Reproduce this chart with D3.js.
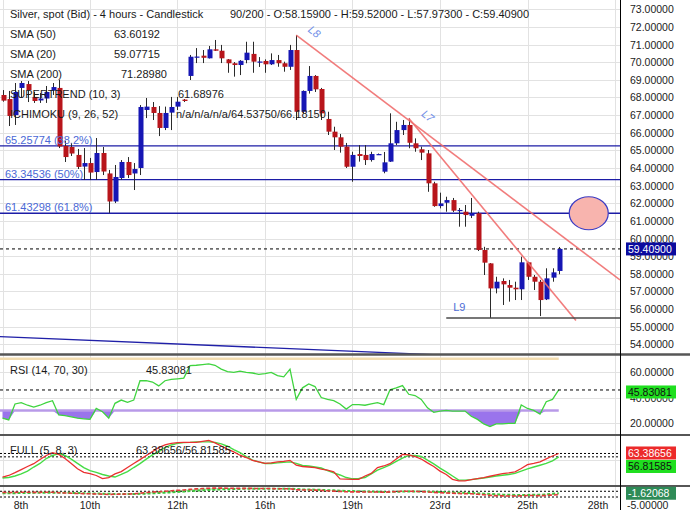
<!DOCTYPE html>
<html>
<head>
<meta charset="utf-8">
<script src="https://cdn.jsdelivr.net/npm/d3@7"></script>
<style>
body{margin:0;background:#fff;}
svg{display:block;font-family:"Liberation Sans",Arial,sans-serif;}
</style>
</head>
<body>
<div id="chart"></div>
<script>
// Silver spot, 4h candles
var opens  = [68.14,67.91,67.00,68.54,68.76,68.03,67.83,67.94,68.39,68.54,
              65.25,65.19,64.74,64.08,64.28,63.77,64.85,63.69,62.10,63.43,
              64.34,63.69,64.00,67.29,67.46,67.12,66.27,67.14,67.48,67.88,
              69.22,70.27,70.37,70.22,70.73,70.65,70.16,69.94,69.84,70.12,
              70.47,70.01,70.07,69.88,70.12,69.94,69.74,70.69,67.19,68.37,
              69.22,68.48,66.78,66.06,65.74,65.21,64.07,64.79,64.74,64.45,
              64.76,63.79,64.36,65.40,66.15,66.44,65.40,65.06,64.83,63.13,
              61.84,62.03,62.18,61.59,61.52,61.29,61.43,59.35,58.59,57.17,
              57.59,57.36,57.21,57.12,58.65,57.83,57.55,56.55,57.78,58.159];
var highs  = [68.42,68.37,68.82,68.93,68.93,68.31,68.25,68.65,68.82,68.99,
              65.53,65.42,65.08,65.13,64.57,65.70,65.19,63.89,64.17,64.45,
              64.62,64.28,67.57,67.97,67.74,67.51,67.48,68.03,68.03,67.91,
              70.41,70.80,70.69,70.92,71.26,70.98,70.18,70.01,70.12,71.16,
              71.16,70.29,70.16,70.50,70.41,70.03,70.98,71.54,68.40,69.78,
              69.27,68.54,67.19,66.34,65.93,65.42,64.92,65.30,65.30,64.92,
              64.82,64.91,67.10,66.62,66.72,66.82,65.68,65.21,65.02,63.22,
              62.60,62.37,62.30,61.73,61.90,62.30,61.52,59.53,58.61,57.83,
              57.74,57.65,57.55,58.97,58.68,57.93,57.65,58.31,58.31,59.52];
var lows   = [67.76,66.38,66.44,67.97,67.74,67.69,67.69,67.69,68.14,65.13,
              64.34,64.68,63.94,63.32,63.32,63.32,63.60,61.45,62.01,63.32,
              63.43,62.75,63.60,66.83,66.72,65.81,66.15,66.15,67.29,67.74,
              68.99,69.95,69.95,70.21,70.64,69.95,69.40,69.18,69.27,69.94,
              69.40,69.73,69.40,69.84,69.74,69.46,69.56,66.72,67.12,68.22,
              68.31,66.72,65.87,65.02,64.87,64.00,63.22,64.36,64.17,64.36,
              64.74,63.70,64.34,65.30,65.87,65.12,64.92,64.45,62.65,61.80,
              61.71,61.52,61.50,60.67,60.67,61.16,59.29,57.93,55.49,56.89,
              56.23,56.42,56.51,56.51,57.65,57.08,55.60,56.51,57.55,57.973];
var closes = [67.82,66.95,68.31,68.82,68.42,67.80,67.94,68.31,68.59,65.22,
              64.62,64.82,64.06,64.28,63.74,64.85,63.80,62.10,63.49,64.34,
              63.60,63.94,67.46,67.48,67.12,66.27,67.12,67.46,67.76,67.80,
              70.31,70.32,70.25,70.73,70.65,70.22,69.94,69.84,70.08,70.54,
              70.03,70.04,69.88,70.12,69.94,69.74,70.69,67.19,68.37,69.22,
              68.46,67.10,66.06,65.74,65.21,64.07,64.74,64.68,64.45,64.79,
              64.79,64.32,65.40,66.15,66.44,65.43,65.12,64.87,63.13,61.84,
              61.99,62.18,61.58,61.62,61.33,61.43,59.35,58.63,57.17,57.55,
              57.40,57.21,57.12,58.65,57.83,57.55,56.51,57.74,58.08,59.409];

// RSI (14, 70, 30)
var rsi = [24,22.6,35,36,34,32.5,34,36,37.5,26.5,
           26,25,24,23.5,23,31.6,29,24,35.5,38,
           36.3,38,53,53,52,49,53,54,54.5,55,
           64.7,65,65.5,66,65,62,60,59.5,60.5,59.5,
           59,58,58.5,59.5,57,56,62,38.6,47.5,50.5,
           48.5,40,38.5,37.5,35,31,34.5,34.5,34,35,
           36,34.5,46,47.5,49.2,42.5,41.5,38.5,32,28.5,
           29.5,30,29.5,29.5,29.5,25.5,23,19.5,17.4,19.5,
           19.5,20,20,34.2,31.5,30,27.2,36.7,38.5,45.83081];

// FULL stochastic (5, 8, 3)
var stochK = [17.5,20.5,26,32,38,43.5,51.5,59.5,65,61.5,
              53.5,44,33.5,26.5,24,20.5,14.5,16.5,23.5,28,
              36,44,51.5,59.5,67,75,80,83,84.5,85,
              85,85,87,89,84,78,72,66.5,60,55.5,
              50,47,44,45,47,48,50,40.5,38,37,
              36,33,31,27.5,14,13.5,13,13,19.5,24.5,
              36,39,43.5,52.5,61.5,60.5,57.5,52.5,45,38,
              29,22.5,13,10,10,12.5,14.5,16.5,19,21.5,
              24,25.5,27.5,34,41.5,44,47,53,58.5,63.38656];
var stochD = [15.5,16.5,19.5,23.5,29,37,44,53.5,59.5,63,
              59.5,52.5,44,36,30,26.5,22.5,19.5,17.5,22.5,
              28,36,43.5,52.5,60.5,67,75,80,83,84.5,
              85,86,86,86,85,82,77.5,71,65,57.5,
              50.5,47,44,44,45,46,47,44,40,39,
              37,35,30,25.5,21.5,16.5,14,14.5,16.5,23.5,
              31,36,41,48,54.5,59.5,59.5,57.5,50.5,43,
              35,27.5,19.5,11.5,11.5,12.5,14,15.5,17.5,19.5,
              21,22.5,24.5,29,33.5,37,40.5,44,49,56.81585];

// bottom oscillator panel
var macdLine = [-1.35,-1.4,-1.35,-1.3,-1.3,-1.35,-1.35,-1.3,-1.3,-1.45,
                -1.55,-1.6,-1.7,-1.75,-1.8,-1.85,-1.9,-2.0,-1.95,-1.9,
                -1.85,-1.8,-1.6,-1.4,-1.25,-1.15,-1.0,-0.85,-0.7,-0.6,
                -0.4,-0.25,-0.15,-0.05,0.0,0.0,-0.05,-0.1,-0.1,-0.1,
                -0.1,-0.15,-0.15,-0.15,-0.2,-0.2,-0.2,-0.5,-0.6,-0.6,
                -0.65,-0.75,-0.85,-0.95,-1.05,-1.15,-1.2,-1.2,-1.25,-1.25,
                -1.25,-1.3,-1.2,-1.1,-1.0,-1.0,-1.05,-1.1,-1.2,-1.35,
                -1.45,-1.55,-1.6,-1.7,-1.75,-1.8,-1.95,-2.1,-2.3,-2.4,
                -2.45,-2.5,-2.5,-2.4,-2.35,-2.35,-2.4,-2.3,-2.2,-2.05];
var signalLine = [-1.6,-1.6,-1.6,-1.55,-1.55,-1.5,-1.5,-1.5,-1.45,-1.45,
                  -1.5,-1.5,-1.55,-1.6,-1.65,-1.7,-1.75,-1.8,-1.85,-1.85,
                  -1.85,-1.85,-1.8,-1.75,-1.65,-1.55,-1.45,-1.35,-1.2,-1.1,
                  -0.95,-0.8,-0.7,-0.6,-0.5,-0.4,-0.35,-0.3,-0.25,-0.2,
                  -0.2,-0.2,-0.2,-0.2,-0.2,-0.2,-0.2,-0.3,-0.4,-0.45,
                  -0.5,-0.55,-0.65,-0.7,-0.8,-0.9,-0.95,-1.0,-1.05,-1.1,
                  -1.15,-1.2,-1.2,-1.15,-1.1,-1.05,-1.05,-1.05,-1.1,-1.15,
                  -1.2,-1.3,-1.35,-1.45,-1.5,-1.55,-1.65,-1.75,-1.85,-1.95,
                  -2.05,-2.1,-2.15,-2.15,-2.15,-2.1,-2.1,-2.0,-1.8,-1.62068];
var macdMarks = [-1.0, -2.8];

// x axis
var dateTicks  = [0,14,28,42,56,70,84,98];
var dateLabels = ['8th','10th','12th','16th','19th','23rd','25th','28th'];
var priceTicks = d3.range(54,74);
var rsiTicks = [20,40,60];

// fibonacci retracement
var fibLevels = [65.25774,63.34536,61.43298];
var fibLabels = ['65.25774 (38.2%)','63.34536 (50%)','61.43298 (61.8%)'];

// drawn objects (index, price)
var lineL8 = [{i:47,p:71.54},{i:98.8,p:57.65}];
var lineL7 = [{i:65,p:66.82},{i:91.75,p:55.35}];
var lineL9 = [{i:71,p:55.49},{i:98.8,p:55.49}];
var lineLow = [{i:-0.4,p:54.44},{i:98.8,p:52.97}];
var ellipseAt = {i:93.8,p:61.43298};

var headerTitle = 'Silver, spot (Bid) - 4 hours - Candlestick';
var headerOHLC = '90/200 - O:58.15900 - H:59.52000 - L:57.97300 - C:59.40900';
var legendNames = ['SMA (50)','SMA (20)','SMA (200)','SUPERTREND (10, 3)','ICHIMOKU (9, 26, 52)'];
var legendValues = ['63.60192','59.07715','71.28980','61.68976','n/a/n/a/n/a/64.53750/66.18150'];
var legendValueX = [114,114,121,178,176];

function drawChart() {
    var W=690,H=510,plotR=620;
    var x=d3.scaleLinear().domain([0,89]).range([2.5,558.75]);
    var yMain=d3.scaleLinear().domain([54,73]).range([344.3,9.3]);
    var yRsi=d3.scaleLinear().domain([20,60]).range([423.3,371.7]);
    var yStoch=d3.scaleLinear().domain([0,100]).range([486,434.7]);
    var yMacd=d3.scaleLinear().domain([-5,0.5]).range([504,486.5]);
    var idx=d3.range(opens.length);

    var svg=d3.select('#chart').append('svg')
        .attr('width',W).attr('height',H).style('font-size','11px');
    svg.append('rect').attr('width',W).attr('height',H).attr('fill','#fff');

    var defs=svg.append('defs');
    function clip(id,y0,y1){
        defs.append('clipPath').attr('id',id).append('rect')
            .attr('x',0).attr('y',y0).attr('width',plotR).attr('height',y1-y0);
    }
    clip('cMain',0,354); clip('cRsi',355.5,434); clip('cSto',436,485); clip('cMacd',487,499);

    // grid
    var grid=svg.append('g').attr('stroke','#e2e2e2').attr('stroke-width',1);
    grid.selectAll('line.v').data(dateTicks).enter().append('line')
        .attr('x1',d=>Math.round(x(d))+0.5).attr('x2',d=>Math.round(x(d))+0.5)
        .attr('y1',0).attr('y2',499);
    grid.selectAll('line.h').data(priceTicks).enter().append('line')
        .attr('x1',0).attr('x2',plotR)
        .attr('y1',d=>Math.round(yMain(d))+0.5).attr('y2',d=>Math.round(yMain(d))+0.5);
    grid.selectAll('line.r').data(rsiTicks).enter().append('line')
        .attr('x1',0).attr('x2',plotR)
        .attr('y1',d=>Math.round(yRsi(d))+0.5).attr('y2',d=>Math.round(yRsi(d))+0.5);
    grid.append('line').attr('x1',0).attr('x2',plotR)
        .attr('y1',Math.round(yStoch(50))+0.5).attr('y2',Math.round(yStoch(50))+0.5);

    // ---- main panel ----
    var main=svg.append('g').attr('clip-path','url(#cMain)');
    var pl=d3.line().x(d=>x(d.i)).y(d=>yMain(d.p));

    main.append('path').attr('d',pl(lineLow)).attr('fill','none')
        .attr('stroke','#2020a8').attr('stroke-width',1.3);

    main.selectAll('line.fib').data(fibLevels).enter().append('line')
        .attr('x1',0).attr('x2',plotR)
        .attr('y1',d=>yMain(d)).attr('y2',d=>yMain(d))
        .attr('stroke','#1c1ca6').attr('stroke-width',1.3);

    main.append('line').attr('x1',0).attr('x2',plotR)
        .attr('y1',yMain(closes[89])).attr('y2',yMain(closes[89]))
        .attr('stroke','#000').attr('stroke-dasharray','3,3');

    // candles
    main.append('g').selectAll('line').data(idx).enter().append('line')
        .attr('x1',d=>Math.round(x(d))+0.5).attr('x2',d=>Math.round(x(d))+0.5)
        .attr('y1',d=>yMain(highs[d])).attr('y2',d=>yMain(lows[d]))
        .attr('stroke','#2a2a2a').attr('stroke-width',1);
    main.append('g').selectAll('rect').data(idx).enter().append('rect')
        .attr('x',d=>Math.round(x(d))-1.5).attr('width',5)
        .attr('y',d=>yMain(Math.max(opens[d],closes[d])))
        .attr('height',d=>Math.max(1.2,Math.abs(yMain(opens[d])-yMain(closes[d]))))
        .attr('fill',d=>closes[d]>=opens[d]?'#1616b4':'#b8151b');

    // trend lines
    [lineL8,lineL7].forEach(function(l){
        main.append('path').attr('d',pl(l)).attr('fill','none')
            .attr('stroke','#f06e6e').attr('stroke-width',1.6).attr('stroke-opacity',0.9);
    });
    main.append('path').attr('d',pl(lineL9)).attr('fill','none')
        .attr('stroke','#4a4a4a').attr('stroke-width',1.4);

    main.append('ellipse')
        .attr('cx',x(ellipseAt.i)).attr('cy',yMain(ellipseAt.p))
        .attr('rx',19.5).attr('ry',16.5)
        .attr('fill','#f8b4ae').attr('stroke','#3b3bc4').attr('stroke-width',1.2);

    // line labels
    main.append('text').attr('transform','translate('+(x(lineL8[0].i)+11)+','+(yMain(lineL8[0].p)-4)+') rotate(38)')
        .attr('fill','#6d8de8').style('font-style','italic').text('L8');
    main.append('text').attr('transform','translate('+(x(lineL7[0].i)+12)+','+(yMain(lineL7[0].p)-3)+') rotate(38)')
        .attr('fill','#6d8de8').style('font-style','italic').text('L7');
    main.append('text').attr('x',x(lineL9[0].i)+7).attr('y',yMain(lineL9[0].p)-7)
        .attr('fill','#4d6cd6').text('L9');

    main.selectAll('text.fib').data(fibLevels).enter().append('text')
        .attr('x',5).attr('y',d=>yMain(d)-2)
        .attr('fill','#4a68d6').text((d,k)=>fibLabels[k]);

    // header / legend
    var hdr=svg.append('g').attr('fill','#1a1a1a');
    hdr.append('text').attr('x',10).attr('y',18).text(headerTitle);
    hdr.append('text').attr('x',230).attr('y',18).text(headerOHLC);
    legendNames.forEach(function(n,k){
        hdr.append('text').attr('x',10).attr('y',38+k*20).text(n);
        hdr.append('text').attr('x',legendValueX[k]).attr('y',38+k*20).text(legendValues[k]);
    });

    // ---- RSI panel ----
    var rp=svg.append('g').attr('clip-path','url(#cRsi)');
    rp.append('line').attr('x1',0).attr('x2',x(89))
        .attr('y1',yRsi(70)).attr('y2',yRsi(70))
        .attr('stroke','#f2dcb0').attr('stroke-width',2.5);
    rp.append('path').datum(idx)
        .attr('d',d3.area().x(d=>x(d)).y0(yRsi(30)).y1(d=>yRsi(Math.min(rsi[d],30))))
        .attr('fill','#9a74ec');
    rp.append('line').attr('x1',0).attr('x2',x(89))
        .attr('y1',yRsi(30)).attr('y2',yRsi(30))
        .attr('stroke','#b89ae8').attr('stroke-width',2.5);
    rp.append('path').datum(idx)
        .attr('d',d3.line().x(d=>x(d)).y(d=>yRsi(rsi[d])))
        .attr('fill','none').attr('stroke','#3fd43f').attr('stroke-width',1.3);
    rp.append('line').attr('x1',0).attr('x2',plotR)
        .attr('y1',yRsi(rsi[89])).attr('y2',yRsi(rsi[89]))
        .attr('stroke','#000').attr('stroke-dasharray','3,3');
    svg.append('text').attr('x',10).attr('y',374).attr('fill','#1a1a1a').text('RSI (14, 70, 30)');
    svg.append('text').attr('x',146).attr('y',374).attr('fill','#1a1a1a').text(rsi[89].toFixed(5));

    // ---- stochastic panel ----
    var sp=svg.append('g').attr('clip-path','url(#cSto)');
    [stochK[89],stochD[89]].forEach(function(v){
        sp.append('line').attr('x1',0).attr('x2',plotR)
            .attr('y1',yStoch(v)).attr('y2',yStoch(v))
            .attr('stroke','#000').attr('stroke-dasharray','2,2');
    });
    sp.append('path').datum(idx)
        .attr('d',d3.line().x(d=>x(d)).y(d=>yStoch(stochD[d])))
        .attr('fill','none').attr('stroke','#45dc45').attr('stroke-width',1.4);
    sp.append('path').datum(idx)
        .attr('d',d3.line().x(d=>x(d)).y(d=>yStoch(stochK[d])))
        .attr('fill','none').attr('stroke','#ea3030').attr('stroke-width',1.3);
    svg.append('text').attr('x',10).attr('y',454).attr('fill','#1a1a1a').text('FULL (5, 8, 3)');
    svg.append('text').attr('x',136).attr('y',454).attr('fill','#1a1a1a')
        .text(stochK[89].toFixed(5)+'/'+stochD[89].toFixed(5));

    // ---- bottom oscillator ----
    var mp=svg.append('g').attr('clip-path','url(#cMacd)');
    mp.append('path').datum(idx)
        .attr('d',d3.area().x(d=>x(d)).y0(d=>yMacd(signalLine[d])).y1(d=>yMacd(Math.max(macdLine[d],signalLine[d]))))
        .attr('fill','#9fe39f').attr('fill-opacity',0.8);
    mp.append('path').datum(idx)
        .attr('d',d3.area().x(d=>x(d)).y0(d=>yMacd(signalLine[d])).y1(d=>yMacd(Math.min(macdLine[d],signalLine[d]))))
        .attr('fill','#f3b0a8').attr('fill-opacity',0.7);
    macdMarks.forEach(function(v){
        mp.append('line').attr('x1',0).attr('x2',plotR)
            .attr('y1',yMacd(v)).attr('y2',yMacd(v))
            .attr('stroke','#000').attr('stroke-dasharray','2,2');
    });
    mp.append('path').datum(idx)
        .attr('d',d3.line().x(d=>x(d)).y(d=>yMacd(signalLine[d])))
        .attr('fill','none').attr('stroke','#3cc83c').attr('stroke-width',2).attr('stroke-dasharray','3,2');
    mp.append('path').datum(idx)
        .attr('d',d3.line().x(d=>x(d)).y(d=>yMacd(macdLine[d])))
        .attr('fill','none').attr('stroke','#e23a3a').attr('stroke-width',1.6).attr('stroke-dasharray','4,2');

    // separators and axis line
    [[354.5,2.5],[435,2],[486,2]].forEach(function(s){
        svg.append('line').attr('x1',0).attr('x2',W).attr('y1',s[0]).attr('y2',s[0])
            .attr('stroke','#565656').attr('stroke-width',s[1]);
    });
    svg.append('line').attr('x1',plotR+0.5).attr('x2',plotR+0.5).attr('y1',0).attr('y2',H)
        .attr('stroke','#000').attr('stroke-width',1);

    // right axis labels
    var ax=svg.append('g').style('font-size','10.5px').attr('fill','#222');
    ax.selectAll('text.p').data(priceTicks).enter().append('text')
        .attr('x',630).attr('y',d=>yMain(d)+4).text(d=>d.toFixed(5));
    ax.selectAll('text.r').data([60,40,20]).enter().append('text')
        .attr('x',630).attr('y',d=>yRsi(d)+4).text(d=>d.toFixed(5));
    ax.append('text').attr('x',627).attr('y',508.5).text((-5).toFixed(5));

    function box(v,y,bg,fg){
        ax.append('rect').attr('x',626).attr('y',y-6.5).attr('width',50).attr('height',13).attr('fill',bg);
        ax.append('text').attr('x',628).attr('y',y+4).attr('fill',fg).text(v);
    }
    box(closes[89].toFixed(5),yMain(closes[89]),'#0b0b9e','#fff');
    box(rsi[89].toFixed(5),yRsi(rsi[89])+2,'#1fdf1f','#111');
    var ky=yStoch(stochK[89])-0.5;
    box(stochK[89].toFixed(5),ky,'#ec2a2a','#fff');
    box(stochD[89].toFixed(5),Math.max(yStoch(stochD[89]),ky+13.5),'#1fdf1f','#111');
    box(signalLine[89].toFixed(5),yMacd(signalLine[89]),'#2e8b57','#fff');

    // date labels
    ax.selectAll('text.d').data(dateTicks).enter().append('text')
        .attr('x',d=>Math.min(Math.max(x(d),21),598)).attr('y',508.5)
        .attr('text-anchor','middle').text((d,k)=>dateLabels[k]);
}

drawChart();
</script>
</body>
</html>
